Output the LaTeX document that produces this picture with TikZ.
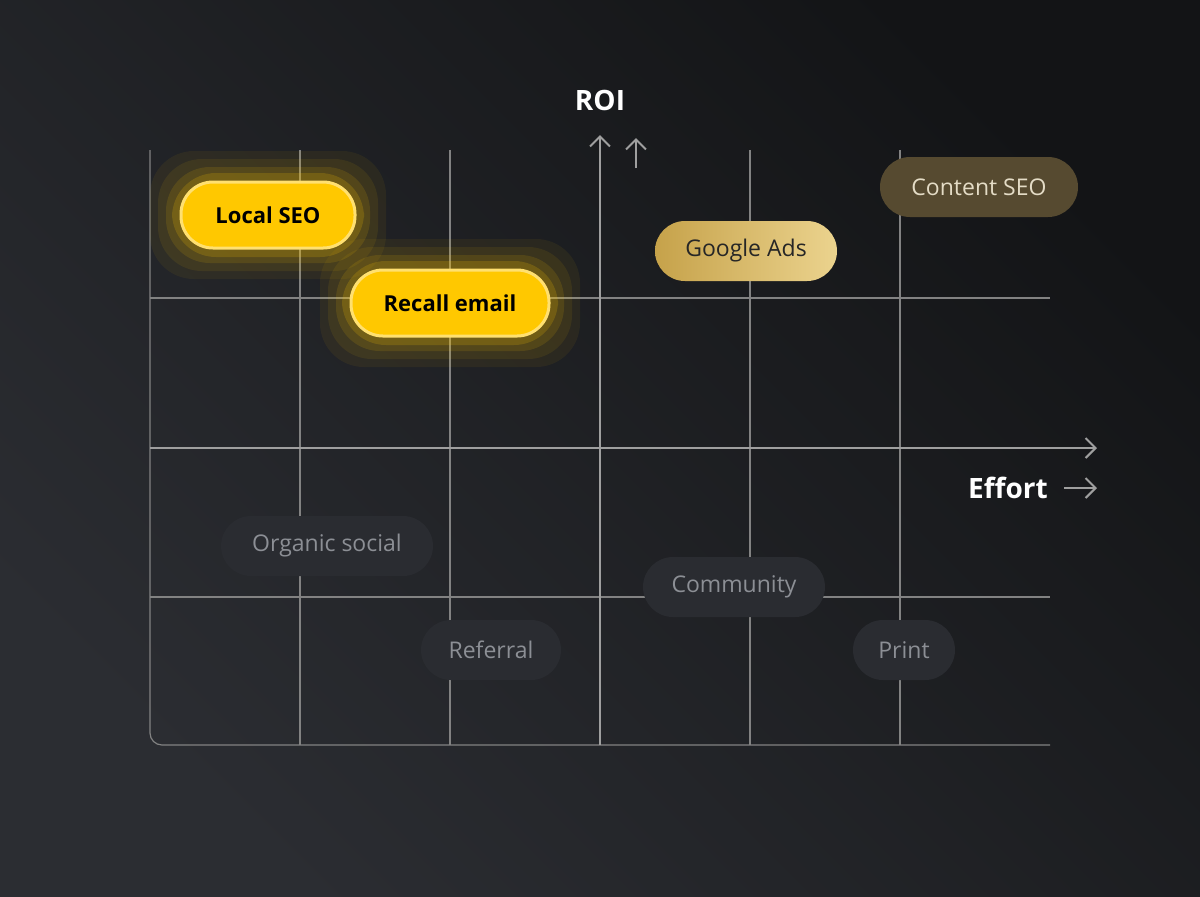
\documentclass[tikz,border=0pt]{standalone}
\usepackage{fontspec}
\setmainfont{Open Sans}
\usetikzlibrary{arrows.meta}
\begin{document}
\begin{tikzpicture}[x=0.5pt,y=-0.5pt,
 grid/.style={draw=white!30!black!70,line width=0.6pt},
 axis/.style={draw=gray!75,line width=1pt},
 pill/.style={rounded corners=15pt,minimum height=30pt,font=\fontsize{11.5}{13}\selectfont,inner xsep=0pt},
 hot/.style={pill,fill=yellowhot,draw=yellowlight,line width=1.5pt,font=\fontsize{11}{13}\selectfont\bfseries,text=black},
 dim/.style={pill,fill=pilldim,text=textdim}]
\definecolor{bgA}{HTML}{2B2D32}\definecolor{bgB}{HTML}{131416}
\definecolor{yellowhot}{HTML}{FFC800}\definecolor{yellowlight}{HTML}{FFE070}
\definecolor{pilldim}{HTML}{2A2C31}\definecolor{textdim}{HTML}{8C8F95}
\definecolor{goldA}{HTML}{C6A24A}\definecolor{goldB}{HTML}{EBD38E}
\definecolor{brown}{HTML}{564A30}\definecolor{cream}{HTML}{E4DCC6}
\shade[left color=bgA,right color=bgB,shading angle=135] (0,0) rectangle (1200,896);
\useasboundingbox (0,0) rectangle (1200,896);
% grid
\foreach \x in {300,450,750,900} \draw[grid] (\x,150) -- (\x,745);
\foreach \y in {298,597} \draw[grid] (150,\y) -- (1050,\y);
\draw[grid,rounded corners=6pt] (150,150) -- (150,745) -- (1050,745);
% axes
\coordinate (xs) at (150,448); \coordinate (xe) at (1097,448);
\coordinate (ys) at (600,745); \coordinate (ye) at (600,135);
\draw[axis,-{Straight Barb[length=5pt,width=10pt]}] (xs) -- (xe);
\draw[axis,-{Straight Barb[length=5pt,width=10pt]}] (ys) -- (ye);
\coordinate (ua) at (636,168); \coordinate (ub) at (636,138);
\draw[axis,-{Straight Barb[length=5pt,width=10pt]}] (ua) -- (ub);
\node[text=white,font=\fontsize{14}{16}\selectfont\bfseries] (roi) at (600,100) {ROI};
\node[text=white,font=\fontsize{14}{16}\selectfont\bfseries] (eff) at (1008,488) {Effort};
\coordinate (ea) at (1064,488); \coordinate (eb) at (1097,488);
\draw[axis,-{Straight Barb[length=5pt,width=10pt]}] (ea) -- (eb);
% glow
\foreach \w/\o in {30/0.06,22/0.08,14/0.12,8/0.18}{
 \fill[yellowhot,opacity=\o,rounded corners=22pt] (180-\w,181-\w) rectangle (356+\w,249+\w);
 \fill[yellowhot,opacity=\o,rounded corners=22pt] (350-\w,269-\w) rectangle (550+\w,337+\w);}
\node[hot,minimum width=87pt,minimum height=33pt,rounded corners=16pt] (local) at (268,215) {Local SEO};
\node[hot,minimum width=99pt,minimum height=33pt,rounded corners=16pt] (recall) at (450,303) {Recall email};
\node[pill,minimum width=91pt,left color=goldA,right color=goldB,text=black!85] (gads) at (746,251) {Google Ads};
\node[pill,minimum width=99pt,fill=brown,text=cream] (cseo) at (979,187) {Content SEO};
\node[dim,minimum width=106pt] (org) at (327,546) {Organic social};
\node[dim,minimum width=70pt] (ref) at (491,650) {Referral};
\node[dim,minimum width=91pt] (com) at (734,587) {Community};
\node[dim,minimum width=51pt] (print) at (904,650) {Print};
\end{tikzpicture}
\end{document}
